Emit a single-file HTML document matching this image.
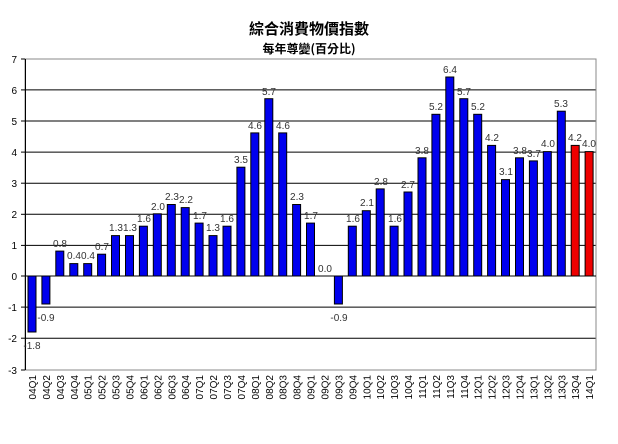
<!DOCTYPE html>
<html><head><meta charset="utf-8"><style>
body{margin:0;background:#fff;}
svg{display:block;font-family:"Liberation Sans","Noto Sans CJK TC",sans-serif;}
</style></head><body>
<svg width="618" height="444" viewBox="0 0 618 444" xmlns="http://www.w3.org/2000/svg">
<rect width="618" height="444" fill="#fff"/>
<text x="309" y="34" text-anchor="middle" font-size="15" font-weight="bold" font-family="'Noto Sans CJK TC',sans-serif">綜合消費物價指數</text>
<text x="309" y="53" text-anchor="middle" font-size="12" font-weight="bold" font-family="'Noto Sans CJK TC',sans-serif">每年尊變(百分比)</text>
<g stroke="#000" stroke-width="1">
<line x1="25" x2="596" y1="89.9" y2="89.9"/><line x1="25" x2="596" y1="121" y2="121"/><line x1="25" x2="596" y1="152.1" y2="152.1"/><line x1="25" x2="596" y1="183.2" y2="183.2"/><line x1="25" x2="596" y1="214.3" y2="214.3"/><line x1="25" x2="596" y1="245.4" y2="245.4"/><line x1="25" x2="596" y1="307.1" y2="307.1"/><line x1="25" x2="596" y1="338.2" y2="338.2"/>
</g>
<rect x="25" y="59" width="571" height="311" fill="none" stroke="#888"/>
<line x1="25.5" x2="25.5" y1="59" y2="370" stroke="#000"/>
<g stroke="#000">
<line x1="21" x2="25" y1="59" y2="59"/><line x1="21" x2="25" y1="89.9" y2="89.9"/><line x1="21" x2="25" y1="121" y2="121"/><line x1="21" x2="25" y1="152.1" y2="152.1"/><line x1="21" x2="25" y1="183.2" y2="183.2"/><line x1="21" x2="25" y1="214.3" y2="214.3"/><line x1="21" x2="25" y1="245.4" y2="245.4"/><line x1="21" x2="25" y1="276" y2="276"/><line x1="21" x2="25" y1="307.1" y2="307.1"/><line x1="21" x2="25" y1="338.2" y2="338.2"/><line x1="21" x2="25" y1="370" y2="370"/>
</g>
<g font-size="10" text-anchor="end" fill="#000">
<text x="17" y="63">7</text><text x="17" y="94">6</text><text x="17" y="125">5</text><text x="17" y="156">4</text><text x="17" y="187">3</text><text x="17" y="218">2</text><text x="17" y="249">1</text><text x="17" y="280">0</text><text x="17" y="311">-1</text><text x="17" y="342">-2</text><text x="17" y="374">-3</text>
</g>
<g fill="#0000ee" stroke="#000" stroke-width="1">
<rect x="28" y="276" width="8" height="56"/>
<rect x="41.9" y="276" width="8" height="28"/>
<rect x="55.8" y="251.1" width="8" height="24.9"/>
<rect x="69.8" y="263.6" width="8" height="12.4"/>
<rect x="83.7" y="263.6" width="8" height="12.4"/>
<rect x="97.6" y="254.2" width="8" height="21.8"/>
<rect x="111.5" y="235.6" width="8" height="40.4"/>
<rect x="125.5" y="235.6" width="8" height="40.4"/>
<rect x="139.4" y="226.2" width="8" height="49.8"/>
<rect x="153.3" y="213.8" width="8" height="62.2"/>
<rect x="167.3" y="204.5" width="8" height="71.5"/>
<rect x="181.2" y="207.6" width="8" height="68.4"/>
<rect x="195.1" y="223.1" width="8" height="52.9"/>
<rect x="209" y="235.6" width="8" height="40.4"/>
<rect x="223" y="226.2" width="8" height="49.8"/>
<rect x="236.9" y="167.2" width="8" height="108.8"/>
<rect x="250.8" y="132.9" width="8" height="143.1"/>
<rect x="264.8" y="98.7" width="8" height="177.3"/>
<rect x="278.7" y="132.9" width="8" height="143.1"/>
<rect x="292.6" y="204.5" width="8" height="71.5"/>
<rect x="306.5" y="223.1" width="8" height="52.9"/>
<rect x="334.4" y="276" width="8" height="28"/>
<rect x="348.3" y="226.2" width="8" height="49.8"/>
<rect x="362.3" y="210.7" width="8" height="65.3"/>
<rect x="376.2" y="188.9" width="8" height="87.1"/>
<rect x="390.1" y="226.2" width="8" height="49.8"/>
<rect x="404" y="192" width="8" height="84"/>
<rect x="418" y="157.8" width="8" height="118.2"/>
<rect x="431.9" y="114.3" width="8" height="161.7"/>
<rect x="445.8" y="77" width="8" height="199"/>
<rect x="459.8" y="98.7" width="8" height="177.3"/>
<rect x="473.7" y="114.3" width="8" height="161.7"/>
<rect x="487.6" y="145.4" width="8" height="130.6"/>
<rect x="501.5" y="179.6" width="8" height="96.4"/>
<rect x="515.5" y="157.8" width="8" height="118.2"/>
<rect x="529.4" y="160.9" width="8" height="115.1"/>
<rect x="543.3" y="151.6" width="8" height="124.4"/>
<rect x="557.3" y="111.2" width="8" height="164.8"/>
<rect x="571.2" y="145.4" width="8" height="130.6" fill="#ee0000"/>
<rect x="585.1" y="151.6" width="8" height="124.4" fill="#ee0000"/>
</g>
<line x1="25" x2="596" y1="276" y2="276" stroke="#000"/>
<g font-size="10" text-anchor="middle" fill="#333">
<text x="32" y="349">-1.8</text>
<text x="46" y="321">-0.9</text>
<text x="60" y="247">0.8</text>
<text x="74" y="259">0.4</text>
<text x="88" y="259">0.4</text>
<text x="102" y="250">0.7</text>
<text x="116" y="231">1.3</text>
<text x="130" y="231">1.3</text>
<text x="144" y="222">1.6</text>
<text x="158" y="210">2.0</text>
<text x="172" y="200">2.3</text>
<text x="186" y="203">2.2</text>
<text x="200" y="219">1.7</text>
<text x="213" y="231">1.3</text>
<text x="227" y="222">1.6</text>
<text x="241" y="163">3.5</text>
<text x="255" y="129">4.6</text>
<text x="269" y="95">5.7</text>
<text x="283" y="129">4.6</text>
<text x="297" y="200">2.3</text>
<text x="311" y="219">1.7</text>
<text x="325" y="272">0.0</text>
<text x="339" y="321">-0.9</text>
<text x="353" y="222">1.6</text>
<text x="367" y="206">2.1</text>
<text x="381" y="185">2.8</text>
<text x="395" y="222">1.6</text>
<text x="408" y="188">2.7</text>
<text x="422" y="154">3.8</text>
<text x="436" y="110">5.2</text>
<text x="450" y="73">6.4</text>
<text x="464" y="95">5.7</text>
<text x="478" y="110">5.2</text>
<text x="492" y="141">4.2</text>
<text x="506" y="175">3.1</text>
<text x="520" y="154">3.8</text>
<text x="534" y="157">3.7</text>
<text x="548" y="147">4.0</text>
<text x="561" y="107">5.3</text>
<text x="575" y="141">4.2</text>
<text x="589" y="147">4.0</text>
</g>
<g font-size="10" text-anchor="end" fill="#000">
<text transform="translate(36,375) rotate(-90)">04Q1</text>
<text transform="translate(49.9,375) rotate(-90)">04Q2</text>
<text transform="translate(63.8,375) rotate(-90)">04Q3</text>
<text transform="translate(77.8,375) rotate(-90)">04Q4</text>
<text transform="translate(91.7,375) rotate(-90)">05Q1</text>
<text transform="translate(105.6,375) rotate(-90)">05Q2</text>
<text transform="translate(119.5,375) rotate(-90)">05Q3</text>
<text transform="translate(133.5,375) rotate(-90)">05Q4</text>
<text transform="translate(147.4,375) rotate(-90)">06Q1</text>
<text transform="translate(161.3,375) rotate(-90)">06Q2</text>
<text transform="translate(175.3,375) rotate(-90)">06Q3</text>
<text transform="translate(189.2,375) rotate(-90)">06Q4</text>
<text transform="translate(203.1,375) rotate(-90)">07Q1</text>
<text transform="translate(217,375) rotate(-90)">07Q2</text>
<text transform="translate(231,375) rotate(-90)">07Q3</text>
<text transform="translate(244.9,375) rotate(-90)">07Q4</text>
<text transform="translate(258.8,375) rotate(-90)">08Q1</text>
<text transform="translate(272.8,375) rotate(-90)">08Q2</text>
<text transform="translate(286.7,375) rotate(-90)">08Q3</text>
<text transform="translate(300.6,375) rotate(-90)">08Q4</text>
<text transform="translate(314.5,375) rotate(-90)">09Q1</text>
<text transform="translate(328.5,375) rotate(-90)">09Q2</text>
<text transform="translate(342.4,375) rotate(-90)">09Q3</text>
<text transform="translate(356.3,375) rotate(-90)">09Q4</text>
<text transform="translate(370.3,375) rotate(-90)">10Q1</text>
<text transform="translate(384.2,375) rotate(-90)">10Q2</text>
<text transform="translate(398.1,375) rotate(-90)">10Q3</text>
<text transform="translate(412,375) rotate(-90)">10Q4</text>
<text transform="translate(426,375) rotate(-90)">11Q1</text>
<text transform="translate(439.9,375) rotate(-90)">11Q2</text>
<text transform="translate(453.8,375) rotate(-90)">11Q3</text>
<text transform="translate(467.8,375) rotate(-90)">11Q4</text>
<text transform="translate(481.7,375) rotate(-90)">12Q1</text>
<text transform="translate(495.6,375) rotate(-90)">12Q2</text>
<text transform="translate(509.5,375) rotate(-90)">12Q3</text>
<text transform="translate(523.5,375) rotate(-90)">12Q4</text>
<text transform="translate(537.4,375) rotate(-90)">13Q1</text>
<text transform="translate(551.3,375) rotate(-90)">13Q2</text>
<text transform="translate(565.3,375) rotate(-90)">13Q3</text>
<text transform="translate(579.2,375) rotate(-90)">13Q4</text>
<text transform="translate(593.1,375) rotate(-90)">14Q1</text>
</g>
</svg>
</body></html>
